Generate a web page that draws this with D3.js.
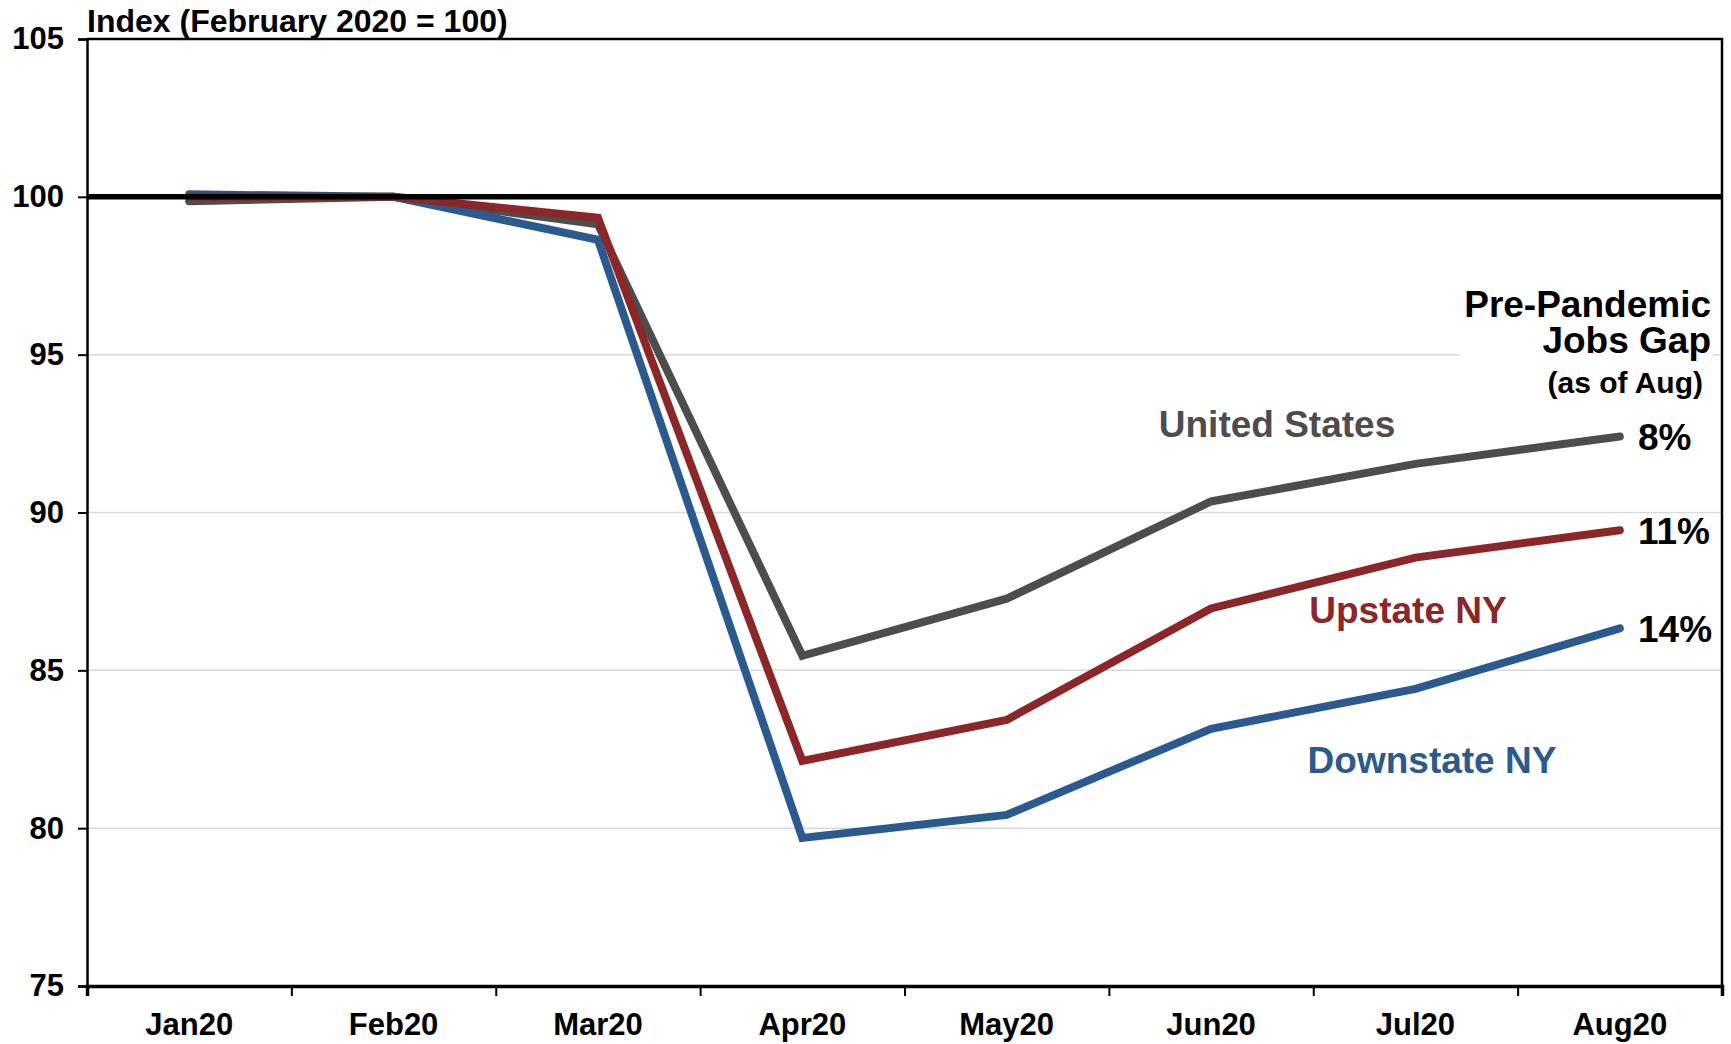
<!DOCTYPE html>
<html>
<head>
<meta charset="utf-8">
<script src="https://cdn.jsdelivr.net/npm/d3@7"></script>
<style>
  body { margin: 0; background: #fff; }
  text { font-family: "Liberation Sans", Arial, sans-serif; font-weight: bold; }
</style>
</head>
<body>
<svg id="chart" width="1731" height="1044"></svg>
<script>
// Chart data
const months = ["Jan20", "Feb20", "Mar20", "Apr20", "May20", "Jun20", "Jul20", "Aug20"];
const unitedStates = [99.86, 100, 99.13, 85.46, 87.27, 90.35, 91.54, 92.41];
const upstateNY = [100.0, 100, 99.34, 82.13, 83.43, 86.96, 88.57, 89.44];
const downstateNY = [100.08, 100, 98.64, 79.69, 80.42, 83.15, 84.41, 86.33];
const yTicks = [75, 80, 85, 90, 95, 100, 105];
const gridValues = [80, 85, 90, 95];
const gapLabels = ["8%", "11%", "14%"];

const svg = d3.select("#chart");
const margin = { top: 39, right: 9, bottom: 58, left: 87 };
const width = +svg.attr("width") - margin.left - margin.right;
const height = +svg.attr("height") - margin.top - margin.bottom;

const x = d3.scaleBand().domain(months).range([0, width]).padding(0);
const xEdges = d3.scaleLinear().domain([0, months.length]).range([0, width]);
const y = d3.scaleLinear().domain([75, 105]).range([height, 0]);

const g = svg.append("g").attr("transform", `translate(${margin.left},${margin.top})`);

// Gridlines
g.append("g")
    .selectAll("line")
    .data(gridValues)
    .join("line")
    .attr("x1", 0).attr("x2", width)
    .attr("y1", d => y(d)).attr("y2", d => y(d))
    .attr("stroke", "#d9d9d9")
    .attr("stroke-width", 1.5);

// Frame: top and right
g.append("path")
    .attr("d", `M0,0H${width}V${height}`)
    .attr("fill", "none")
    .attr("stroke", "#000")
    .attr("stroke-width", 2.5);

// Y axis
const yAxis = g.append("g")
    .call(d3.axisLeft(y).tickValues(yTicks).tickSize(9).tickPadding(14));
yAxis.select(".domain").attr("stroke-width", 2.5);
yAxis.selectAll(".tick line").attr("stroke-width", 2);
yAxis.selectAll("text").attr("font-size", 31).attr("fill", "#000")
    .style("font-family", "'Liberation Sans', Arial, sans-serif");

// X axis: labels centered in bands, ticks at the edges
const xAxis = g.append("g")
    .attr("transform", `translate(0,${height})`)
    .call(d3.axisBottom(x).tickSize(0).tickPadding(27));
xAxis.select(".domain").remove();
xAxis.selectAll("text").attr("font-size", 31).attr("fill", "#000")
    .style("font-family", "'Liberation Sans', Arial, sans-serif");

const xTicks = g.append("g")
    .attr("transform", `translate(0,${height})`)
    .call(d3.axisBottom(xEdges).tickValues(d3.range(months.length + 1)).tickSize(10).tickFormat(""));
xTicks.select(".domain").attr("stroke-width", 3.5);
xTicks.selectAll(".tick line").attr("stroke-width", 2);

// White box behind the annotation heading (covers gridline)
g.append("rect")
    .attr("x", 1460 - margin.left).attr("y", 280 - margin.top)
    .attr("width", 253).attr("height", 118)
    .attr("fill", "#fff");

// Series lines
const line = d3.line()
    .x((d, i) => x(months[i]) + x.bandwidth() / 2)
    .y(d => y(d));

const series = [
    { name: "United States", values: unitedStates, color: "#4d4d4d" },
    { name: "Downstate NY", values: downstateNY, color: "#2b5b8e" },
    { name: "Upstate NY", values: upstateNY, color: "#8b2629" }
];

g.selectAll(".series")
    .data(series)
    .join("path")
    .attr("class", "series")
    .attr("d", d => line(d.values))
    .attr("fill", "none")
    .attr("stroke", d => d.color)
    .attr("stroke-width", 8)
    .attr("stroke-linejoin", "miter")
    .attr("stroke-linecap", "round");

// 100 reference line on top
g.append("line")
    .attr("x1", 0).attr("x2", width)
    .attr("y1", y(100)).attr("y2", y(100))
    .attr("stroke", "#000")
    .attr("stroke-width", 5.5);

// Title
svg.append("text")
    .attr("x", margin.left).attr("y", 32)
    .attr("font-size", 32)
    .text("Index (February 2020 = 100)");

// Annotation heading
const head = svg.append("text").attr("text-anchor", "end");
head.append("tspan").attr("x", 1711).attr("y", 317).attr("font-size", 37).text("Pre-Pandemic");
head.append("tspan").attr("x", 1711).attr("y", 353).attr("font-size", 37).text("Jobs Gap");
head.append("tspan").attr("x", 1703).attr("y", 393).attr("font-size", 30).text("(as of Aug)");

// Gap percentages at the end of each line
const gapSeries = [unitedStates, upstateNY, downstateNY];
svg.selectAll(".gap")
    .data(gapSeries)
    .join("text")
    .attr("class", "gap")
    .attr("x", 1638)
    .attr("y", d => margin.top + y(d[d.length - 1]) + 14)
    .attr("font-size", 37)
    .attr("fill", "#000")
    .text((d, i) => gapLabels[i]);

// Series name labels
const labelPos = [
    { text: "United States", cx: 1277, by: 437, color: "#4d4d4d" },
    { text: "Upstate NY", cx: 1408, by: 623, color: "#8b2629" },
    { text: "Downstate NY", cx: 1432, by: 773, color: "#2b5b8e" }
];
svg.selectAll(".name")
    .data(labelPos)
    .join("text")
    .attr("class", "name")
    .attr("x", d => d.cx).attr("y", d => d.by)
    .attr("text-anchor", "middle")
    .attr("font-size", 37)
    .attr("fill", d => d.color)
    .text(d => d.text);
</script>
</body>
</html>
